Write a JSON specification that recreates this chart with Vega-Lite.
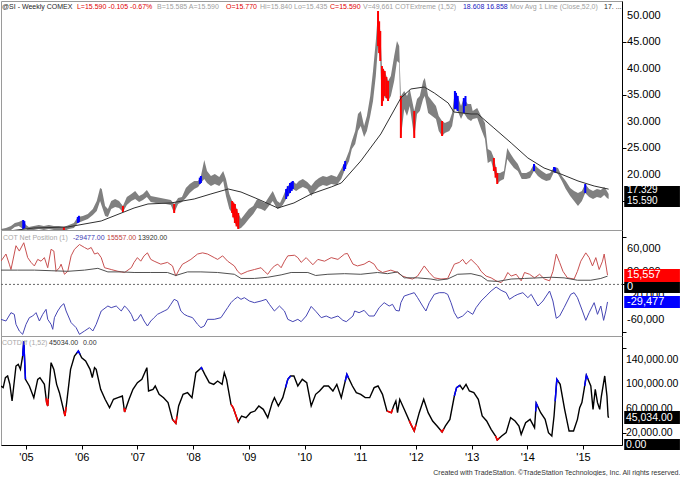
{
"$schema":"https://vega.github.io/schema/vega-lite/v6.json",
"padding":0,
"background":"#ffffff",
"spacing":0,
"bounds":"flush",
"config":{"view":{"stroke":"#9a9a9a","strokeWidth":1},"font":"Liberation Sans","axis":{"grid":false,"labelFont":"Liberation Sans","labelFontSize":11,"labelColor":"#000000","tickColor":"#000000","domainColor":"#000000","tickSize":4,"labelPadding":2}},
"title":{"text":"Created with TradeStation. ©TradeStation Technologies, Inc. All rights reserved.","orient":"bottom","anchor":"end","fontSize":7,"fontWeight":"normal","color":"#333333","offset":6,"font":"Liberation Sans"},
"datasets":{
"px":[{"t":2004.55,"h":9.81,"l":9.06},{"t":2004.64,"h":10.0,"l":9.25},{"t":2004.73,"h":10.38,"l":9.62},{"t":2004.80,"h":10.94,"l":10.19},{"t":2004.87,"h":11.13,"l":10.38},{"t":2004.95,"h":11.51,"l":9.81},{"t":2005.00,"h":10.57,"l":9.81},{"t":2005.05,"h":10.19,"l":9.43},{"t":2005.14,"h":10.38,"l":9.62},{"t":2005.23,"h":10.57,"l":9.81},{"t":2005.32,"h":10.38,"l":9.62},{"t":2005.41,"h":10.57,"l":9.81},{"t":2005.50,"h":10.38,"l":9.62},{"t":2005.59,"h":10.38,"l":9.62},{"t":2005.68,"h":10.19,"l":9.43},{"t":2005.77,"h":10.57,"l":9.81},{"t":2005.86,"h":10.94,"l":10.0},{"t":2005.93,"h":12.07,"l":10.94},{"t":2006.02,"h":12.26,"l":11.32},{"t":2006.11,"h":12.64,"l":11.7},{"t":2006.20,"h":13.59,"l":12.45},{"t":2006.27,"h":15.09,"l":13.21},{"t":2006.33,"h":17.55,"l":15.09},{"t":2006.36,"h":17.36,"l":14.15},{"t":2006.42,"h":14.15,"l":12.26},{"t":2006.47,"h":13.59,"l":12.07},{"t":2006.53,"h":15.09,"l":13.59},{"t":2006.60,"h":15.47,"l":13.96},{"t":2006.67,"h":15.09,"l":13.77},{"t":2006.74,"h":14.15,"l":13.02},{"t":2006.81,"h":15.85,"l":14.34},{"t":2006.89,"h":16.42,"l":15.09},{"t":2006.96,"h":16.98,"l":15.47},{"t":2007.03,"h":16.04,"l":14.91},{"t":2007.10,"h":16.42,"l":15.28},{"t":2007.17,"h":17.17,"l":15.85},{"t":2007.24,"h":16.04,"l":14.91},{"t":2007.33,"h":15.85,"l":14.72},{"t":2007.42,"h":15.66,"l":14.72},{"t":2007.51,"h":15.47,"l":14.53},{"t":2007.60,"h":15.28,"l":14.34},{"t":2007.66,"h":14.53,"l":12.83},{"t":2007.73,"h":15.66,"l":14.53},{"t":2007.80,"h":15.85,"l":14.91},{"t":2007.87,"h":17.55,"l":15.66},{"t":2007.94,"h":18.3,"l":16.6},{"t":2008.02,"h":18.87,"l":17.36},{"t":2008.09,"h":18.87,"l":17.74},{"t":2008.14,"h":19.81,"l":18.49},{"t":2008.20,"h":22.83,"l":19.25},{"t":2008.25,"h":20.75,"l":18.49},{"t":2008.32,"h":19.81,"l":17.92},{"t":2008.39,"h":20.19,"l":18.3},{"t":2008.47,"h":19.62,"l":17.92},{"t":2008.54,"h":20.75,"l":18.87},{"t":2008.59,"h":19.25,"l":16.04},{"t":2008.65,"h":16.42,"l":13.59},{"t":2008.70,"h":15.09,"l":12.83},{"t":2008.75,"h":14.53,"l":10.94},{"t":2008.81,"h":12.83,"l":9.81},{"t":2008.86,"h":11.7,"l":10.0},{"t":2008.93,"h":12.64,"l":10.75},{"t":2009.00,"h":13.59,"l":11.7},{"t":2009.08,"h":14.15,"l":12.64},{"t":2009.15,"h":15.47,"l":13.77},{"t":2009.22,"h":15.09,"l":13.59},{"t":2009.29,"h":14.72,"l":13.21},{"t":2009.36,"h":15.85,"l":14.15},{"t":2009.43,"h":16.98,"l":15.09},{"t":2009.51,"h":15.09,"l":13.59},{"t":2009.56,"h":14.72,"l":13.77},{"t":2009.61,"h":15.85,"l":14.34},{"t":2009.67,"h":17.36,"l":15.47},{"t":2009.74,"h":18.49,"l":16.6},{"t":2009.79,"h":18.87,"l":17.36},{"t":2009.85,"h":18.3,"l":16.98},{"t":2009.90,"h":18.87,"l":17.36},{"t":2009.97,"h":19.25,"l":17.74},{"t":2010.05,"h":18.68,"l":17.36},{"t":2010.12,"h":17.92,"l":16.04},{"t":2010.19,"h":18.87,"l":16.98},{"t":2010.26,"h":19.43,"l":17.74},{"t":2010.33,"h":19.81,"l":18.11},{"t":2010.40,"h":19.62,"l":17.92},{"t":2010.48,"h":20.0,"l":18.3},{"t":2010.58,"h":19.62,"l":18.11},{"t":2010.66,"h":21.13,"l":19.25},{"t":2010.73,"h":22.64,"l":21.13},{"t":2010.80,"h":24.53,"l":22.64},{"t":2010.85,"h":26.42,"l":24.91},{"t":2010.91,"h":28.3,"l":25.85},{"t":2010.96,"h":31.51,"l":28.3},{"t":2011.01,"h":32.08,"l":29.25},{"t":2011.07,"h":29.25,"l":27.17},{"t":2011.12,"h":31.13,"l":28.3},{"t":2011.18,"h":34.91,"l":31.13},{"t":2011.23,"h":39.62,"l":33.96},{"t":2011.28,"h":45.28,"l":38.68},{"t":2011.32,"h":50.94,"l":44.34},{"t":2011.36,"h":47.17,"l":41.51},{"t":2011.39,"h":40.57,"l":33.02},{"t":2011.44,"h":39.62,"l":34.91},{"t":2011.50,"h":37.74,"l":33.96},{"t":2011.55,"h":38.68,"l":34.91},{"t":2011.61,"h":42.45,"l":37.74},{"t":2011.66,"h":45.28,"l":41.51},{"t":2011.70,"h":44.34,"l":41.13},{"t":2011.73,"h":34.91,"l":26.98},{"t":2011.79,"h":35.85,"l":32.45},{"t":2011.84,"h":34.91,"l":31.13},{"t":2011.89,"h":36.23,"l":33.02},{"t":2011.97,"h":32.08,"l":26.98},{"t":2012.02,"h":34.34,"l":31.51},{"t":2012.07,"h":34.91,"l":32.08},{"t":2012.13,"h":37.74,"l":34.34},{"t":2012.16,"h":38.3,"l":34.91},{"t":2012.22,"h":34.91,"l":31.7},{"t":2012.29,"h":33.96,"l":31.13},{"t":2012.36,"h":33.02,"l":30.57},{"t":2012.41,"h":31.13,"l":28.3},{"t":2012.47,"h":30.19,"l":27.36},{"t":2012.52,"h":29.81,"l":27.92},{"t":2012.60,"h":30.19,"l":28.3},{"t":2012.65,"h":31.7,"l":29.25},{"t":2012.70,"h":35.85,"l":32.45},{"t":2012.75,"h":34.91,"l":32.08},{"t":2012.81,"h":33.02,"l":30.57},{"t":2012.86,"h":34.53,"l":31.7},{"t":2012.93,"h":33.4,"l":30.57},{"t":2012.99,"h":33.4,"l":30.19},{"t":2013.02,"h":32.08,"l":30.57},{"t":2013.10,"h":32.64,"l":30.75},{"t":2013.17,"h":31.13,"l":28.68},{"t":2013.24,"h":29.81,"l":26.79},{"t":2013.29,"h":24.91,"l":22.26},{"t":2013.35,"h":24.53,"l":22.64},{"t":2013.40,"h":23.21,"l":20.75},{"t":2013.46,"h":20.38,"l":18.3},{"t":2013.51,"h":20.38,"l":18.87},{"t":2013.58,"h":20.75,"l":19.25},{"t":2013.64,"h":25.09,"l":23.02},{"t":2013.69,"h":24.15,"l":22.26},{"t":2013.76,"h":23.02,"l":21.32},{"t":2013.83,"h":22.08,"l":20.75},{"t":2013.90,"h":20.38,"l":19.25},{"t":2013.98,"h":20.38,"l":19.25},{"t":2014.05,"h":20.75,"l":19.43},{"t":2014.12,"h":22.08,"l":20.75},{"t":2014.19,"h":21.32,"l":19.81},{"t":2014.26,"h":20.75,"l":19.25},{"t":2014.34,"h":20.19,"l":18.87},{"t":2014.41,"h":20.38,"l":19.06},{"t":2014.48,"h":21.51,"l":20.57},{"t":2014.55,"h":21.32,"l":20.19},{"t":2014.62,"h":19.81,"l":18.87},{"t":2014.69,"h":18.87,"l":17.36},{"t":2014.77,"h":17.55,"l":16.04},{"t":2014.84,"h":16.98,"l":15.09},{"t":2014.91,"h":16.6,"l":14.15},{"t":2014.98,"h":16.98,"l":15.09},{"t":2015.04,"h":18.3,"l":16.6},{"t":2015.11,"h":17.36,"l":15.85},{"t":2015.18,"h":16.98,"l":15.47},{"t":2015.25,"h":17.36,"l":15.85},{"t":2015.32,"h":17.17,"l":15.66},{"t":2015.38,"h":17.74,"l":16.23},{"t":2015.43,"h":16.98,"l":15.66},{"t":2015.46,"h":16.42,"l":15.47}],
"pc":[{"t":2004.95,"h":11.51,"l":9.81,"ext":"high"},{"t":2004.97,"h":11.3,"l":10.0,"ext":"high"},{"t":2005.93,"h":12.07,"l":10.94,"ext":"high"},{"t":2005.95,"h":12.3,"l":11.1,"ext":"high"},{"t":2008.12,"h":19.5,"l":18.3,"ext":"high"},{"t":2008.14,"h":19.81,"l":18.49,"ext":"high"},{"t":2009.67,"h":17.36,"l":15.47,"ext":"high"},{"t":2009.70,"h":17.9,"l":16.0,"ext":"high"},{"t":2009.74,"h":18.49,"l":16.6,"ext":"high"},{"t":2009.77,"h":18.7,"l":17.0,"ext":"high"},{"t":2009.79,"h":18.87,"l":17.36,"ext":"high"},{"t":2010.71,"h":22.0,"l":20.8,"ext":"high"},{"t":2010.73,"h":22.64,"l":21.13,"ext":"high"},{"t":2012.70,"h":35.85,"l":32.45,"ext":"high"},{"t":2012.72,"h":35.5,"l":32.5,"ext":"high"},{"t":2012.75,"h":34.91,"l":32.08,"ext":"high"},{"t":2012.86,"h":34.53,"l":31.7,"ext":"high"},{"t":2012.89,"h":34.91,"l":33.02,"ext":"high"},{"t":2014.12,"h":22.08,"l":20.75,"ext":"high"},{"t":2014.48,"h":21.51,"l":20.57,"ext":"high"},{"t":2014.50,"h":21.4,"l":20.4,"ext":"high"},{"t":2015.04,"h":18.3,"l":16.6,"ext":"high"},{"t":2005.68,"h":10.19,"l":9.43,"ext":"low"},{"t":2006.74,"h":14.15,"l":13.02,"ext":"low"},{"t":2007.66,"h":14.53,"l":12.83,"ext":"low"},{"t":2008.70,"h":15.09,"l":12.83,"ext":"low"},{"t":2008.72,"h":14.8,"l":12.0,"ext":"low"},{"t":2008.75,"h":14.53,"l":10.94,"ext":"low"},{"t":2008.78,"h":13.6,"l":10.3,"ext":"low"},{"t":2008.81,"h":12.83,"l":9.81,"ext":"low"},{"t":2011.32,"h":50.94,"l":44.34,"ext":"low"},{"t":2011.34,"h":49.0,"l":43.0,"ext":"low"},{"t":2011.36,"h":47.17,"l":41.51,"ext":"low"},{"t":2011.39,"h":40.57,"l":33.02,"ext":"low"},{"t":2011.41,"h":40.0,"l":34.0,"ext":"low"},{"t":2011.44,"h":39.62,"l":34.91,"ext":"low"},{"t":2011.47,"h":38.5,"l":34.5,"ext":"low"},{"t":2011.50,"h":37.74,"l":33.96,"ext":"low"},{"t":2011.73,"h":34.91,"l":26.98,"ext":"low"},{"t":2011.97,"h":32.08,"l":26.98,"ext":"low"},{"t":2012.47,"h":30.19,"l":27.36,"ext":"low"},{"t":2013.40,"h":23.21,"l":20.75,"ext":"low"},{"t":2013.43,"h":21.5,"l":19.5,"ext":"low"},{"t":2013.46,"h":20.38,"l":18.3,"ext":"low"}],
"ma":[{"t":2004.55,"m":9.25},{"t":2005.14,"m":10.0},{"t":2005.75,"m":10.19},{"t":2006.35,"m":11.32},{"t":2006.94,"m":13.77},{"t":2007.19,"m":14.53},{"t":2007.60,"m":14.72},{"t":2008.02,"m":15.47},{"t":2008.32,"m":16.42},{"t":2008.63,"m":17.36},{"t":2008.86,"m":16.79},{"t":2009.16,"m":15.47},{"t":2009.52,"m":13.77},{"t":2009.81,"m":14.72},{"t":2010.12,"m":16.42},{"t":2010.48,"m":17.74},{"t":2010.66,"m":18.49},{"t":2011.01,"m":22.64},{"t":2011.37,"m":27.74},{"t":2011.73,"m":34.53},{"t":2011.91,"m":36.23},{"t":2012.15,"m":36.6},{"t":2012.33,"m":35.47},{"t":2012.58,"m":33.58},{"t":2012.68,"m":31.89},{"t":2012.99,"m":31.51},{"t":2013.11,"m":31.51},{"t":2013.40,"m":28.87},{"t":2013.71,"m":26.04},{"t":2014.01,"m":23.21},{"t":2014.30,"m":21.32},{"t":2014.60,"m":20.19},{"t":2014.91,"m":18.87},{"t":2015.20,"m":17.92},{"t":2015.46,"m":17.33}],
"large":[{"t":2004.55,"v":39},{"t":2004.64,"v":51},{"t":2004.70,"v":34},{"t":2004.73,"v":25},{"t":2004.82,"v":65},{"t":2004.88,"v":56},{"t":2004.96,"v":70},{"t":2005.03,"v":45},{"t":2005.09,"v":37},{"t":2005.15,"v":31},{"t":2005.21,"v":42},{"t":2005.27,"v":39},{"t":2005.33,"v":45},{"t":2005.39,"v":28},{"t":2005.45,"v":59},{"t":2005.50,"v":56},{"t":2005.54,"v":22},{"t":2005.60,"v":28},{"t":2005.63,"v":34},{"t":2005.69,"v":17},{"t":2005.75,"v":22},{"t":2005.81,"v":48},{"t":2005.87,"v":59},{"t":2005.96,"v":67},{"t":2006.05,"v":62},{"t":2006.11,"v":59},{"t":2006.17,"v":62},{"t":2006.23,"v":51},{"t":2006.29,"v":53},{"t":2006.35,"v":45},{"t":2006.41,"v":28},{"t":2006.53,"v":25},{"t":2006.65,"v":22},{"t":2006.77,"v":20},{"t":2006.89,"v":28},{"t":2006.94,"v":37},{"t":2007.00,"v":45},{"t":2007.06,"v":39},{"t":2007.12,"v":48},{"t":2007.18,"v":53},{"t":2007.24,"v":42},{"t":2007.30,"v":39},{"t":2007.42,"v":34},{"t":2007.54,"v":37},{"t":2007.63,"v":31},{"t":2007.69,"v":14},{"t":2007.75,"v":25},{"t":2007.81,"v":34},{"t":2007.87,"v":37},{"t":2007.96,"v":42},{"t":2008.08,"v":51},{"t":2008.17,"v":53},{"t":2008.26,"v":51},{"t":2008.38,"v":45},{"t":2008.44,"v":42},{"t":2008.53,"v":48},{"t":2008.62,"v":39},{"t":2008.74,"v":31},{"t":2008.80,"v":22},{"t":2008.86,"v":17},{"t":2008.98,"v":22},{"t":2009.10,"v":25},{"t":2009.22,"v":28},{"t":2009.28,"v":22},{"t":2009.34,"v":17},{"t":2009.40,"v":25},{"t":2009.46,"v":31},{"t":2009.52,"v":34},{"t":2009.58,"v":28},{"t":2009.64,"v":39},{"t":2009.70,"v":48},{"t":2009.82,"v":49},{"t":2009.88,"v":45},{"t":2009.94,"v":37},{"t":2010.03,"v":45},{"t":2010.09,"v":39},{"t":2010.15,"v":33},{"t":2010.24,"v":42},{"t":2010.36,"v":39},{"t":2010.48,"v":45},{"t":2010.60,"v":42},{"t":2010.72,"v":51},{"t":2010.77,"v":52},{"t":2010.87,"v":34},{"t":2010.95,"v":31},{"t":2011.07,"v":34},{"t":2011.16,"v":39},{"t":2011.25,"v":34},{"t":2011.31,"v":25},{"t":2011.40,"v":20},{"t":2011.55,"v":24},{"t":2011.67,"v":20},{"t":2011.76,"v":14},{"t":2011.85,"v":11},{"t":2011.94,"v":9},{"t":2012.03,"v":14},{"t":2012.15,"v":31},{"t":2012.24,"v":20},{"t":2012.33,"v":11},{"t":2012.45,"v":9},{"t":2012.57,"v":10},{"t":2012.63,"v":22},{"t":2012.69,"v":34},{"t":2012.78,"v":37},{"t":2012.84,"v":42},{"t":2012.90,"v":34},{"t":2012.99,"v":42},{"t":2013.11,"v":31},{"t":2013.17,"v":22},{"t":2013.26,"v":14},{"t":2013.35,"v":11},{"t":2013.44,"v":6},{"t":2013.53,"v":3},{"t":2013.59,"v":9},{"t":2013.65,"v":20},{"t":2013.71,"v":14},{"t":2013.80,"v":17},{"t":2013.89,"v":6},{"t":2013.95,"v":20},{"t":2014.04,"v":17},{"t":2014.13,"v":11},{"t":2014.22,"v":17},{"t":2014.31,"v":9},{"t":2014.40,"v":6},{"t":2014.46,"v":22},{"t":2014.52,"v":51},{"t":2014.58,"v":37},{"t":2014.64,"v":22},{"t":2014.72,"v":11},{"t":2014.84,"v":9},{"t":2014.90,"v":22},{"t":2014.96,"v":39},{"t":2015.05,"v":53},{"t":2015.11,"v":45},{"t":2015.17,"v":31},{"t":2015.23,"v":45},{"t":2015.29,"v":25},{"t":2015.35,"v":39},{"t":2015.38,"v":51},{"t":2015.44,"v":15.6}],
"small":[{"t":2004.55,"v":24},{"t":2004.85,"v":24},{"t":2005.15,"v":24},{"t":2005.45,"v":23},{"t":2005.75,"v":22},{"t":2006.05,"v":24},{"t":2006.29,"v":27},{"t":2006.47,"v":21},{"t":2006.71,"v":21},{"t":2006.94,"v":20},{"t":2007.24,"v":20},{"t":2007.54,"v":20},{"t":2007.69,"v":15},{"t":2007.90,"v":21},{"t":2008.14,"v":21},{"t":2008.44,"v":20},{"t":2008.74,"v":17},{"t":2008.86,"v":10},{"t":2009.10,"v":10},{"t":2009.34,"v":12},{"t":2009.58,"v":16},{"t":2009.76,"v":20},{"t":2010.06,"v":20},{"t":2010.20,"v":15},{"t":2010.42,"v":17},{"t":2010.72,"v":18},{"t":2011.01,"v":17},{"t":2011.31,"v":20},{"t":2011.49,"v":18},{"t":2011.67,"v":21},{"t":2011.79,"v":11},{"t":2012.03,"v":11},{"t":2012.27,"v":9},{"t":2012.39,"v":7},{"t":2012.57,"v":9},{"t":2012.75,"v":17},{"t":2012.99,"v":18},{"t":2013.17,"v":14},{"t":2013.29,"v":6},{"t":2013.47,"v":5},{"t":2013.71,"v":9},{"t":2013.95,"v":10},{"t":2014.19,"v":11},{"t":2014.43,"v":12},{"t":2014.66,"v":11},{"t":2014.90,"v":7},{"t":2015.14,"v":7},{"t":2015.32,"v":10},{"t":2015.44,"v":13.9}],
"comm":[{"t":2004.55,"v":-58.7},{"t":2004.64,"v":-61.5},{"t":2004.73,"v":-47.5},{"t":2004.79,"v":-50.3},{"t":2004.82,"v":-67.1},{"t":2004.88,"v":-78.3},{"t":2004.94,"v":-83.9},{"t":2005.00,"v":-67.1},{"t":2005.06,"v":-55.9},{"t":2005.12,"v":-53.1},{"t":2005.18,"v":-47.5},{"t":2005.24,"v":-61.5},{"t":2005.30,"v":-50.3},{"t":2005.36,"v":-41.9},{"t":2005.39,"v":-58.7},{"t":2005.45,"v":-67.1},{"t":2005.48,"v":-75.5},{"t":2005.51,"v":-55.9},{"t":2005.57,"v":-44.7},{"t":2005.63,"v":-36.3},{"t":2005.68,"v":-32.4},{"t":2005.72,"v":-44.7},{"t":2005.81,"v":-64.3},{"t":2005.90,"v":-72.7},{"t":2005.96,"v":-83.9},{"t":2006.05,"v":-78.3},{"t":2006.14,"v":-72.7},{"t":2006.20,"v":-78.3},{"t":2006.26,"v":-67.1},{"t":2006.35,"v":-44.7},{"t":2006.47,"v":-36.3},{"t":2006.53,"v":-39.1},{"t":2006.62,"v":-36.3},{"t":2006.71,"v":-44.7},{"t":2006.77,"v":-36.3},{"t":2006.83,"v":-41.9},{"t":2006.89,"v":-50.3},{"t":2006.94,"v":-61.5},{"t":2007.00,"v":-58.7},{"t":2007.06,"v":-50.3},{"t":2007.12,"v":-61.5},{"t":2007.18,"v":-69.9},{"t":2007.24,"v":-61.5},{"t":2007.30,"v":-55.9},{"t":2007.36,"v":-50.3},{"t":2007.42,"v":-47.5},{"t":2007.48,"v":-44.7},{"t":2007.54,"v":-41.9},{"t":2007.60,"v":-33.5},{"t":2007.66,"v":-25.1},{"t":2007.72,"v":-27.9},{"t":2007.78,"v":-44.7},{"t":2007.84,"v":-50.3},{"t":2007.90,"v":-53.1},{"t":2007.99,"v":-55.9},{"t":2008.08,"v":-67.1},{"t":2008.14,"v":-72.7},{"t":2008.20,"v":-69.9},{"t":2008.26,"v":-58.7},{"t":2008.38,"v":-58.7},{"t":2008.50,"v":-55.9},{"t":2008.62,"v":-39.1},{"t":2008.68,"v":-30.7},{"t":2008.74,"v":-25.1},{"t":2008.80,"v":-21.2},{"t":2008.86,"v":-25.1},{"t":2008.92,"v":-22.3},{"t":2009.01,"v":-27.9},{"t":2009.10,"v":-30.7},{"t":2009.22,"v":-27.9},{"t":2009.31,"v":-25.1},{"t":2009.37,"v":-33.5},{"t":2009.46,"v":-44.7},{"t":2009.55,"v":-36.3},{"t":2009.64,"v":-44.7},{"t":2009.70,"v":-58.7},{"t":2009.79,"v":-62.6},{"t":2009.88,"v":-58.7},{"t":2009.94,"v":-62.6},{"t":2010.03,"v":-53.1},{"t":2010.12,"v":-37},{"t":2010.21,"v":-46},{"t":2010.30,"v":-55.9},{"t":2010.39,"v":-53.1},{"t":2010.48,"v":-57.0},{"t":2010.60,"v":-53.1},{"t":2010.69,"v":-60.4},{"t":2010.75,"v":-62.6},{"t":2010.87,"v":-53.1},{"t":2010.90,"v":-44.7},{"t":2010.98,"v":-47.5},{"t":2011.07,"v":-43.6},{"t":2011.16,"v":-53.1},{"t":2011.25,"v":-53.1},{"t":2011.34,"v":-39.1},{"t":2011.43,"v":-30.7},{"t":2011.52,"v":-36.3},{"t":2011.58,"v":-33.5},{"t":2011.64,"v":-43.6},{"t":2011.70,"v":-44.7},{"t":2011.73,"v":-30.7},{"t":2011.79,"v":-19.5},{"t":2011.88,"v":-16.7},{"t":2011.97,"v":-13.9},{"t":2012.03,"v":-22.3},{"t":2012.12,"v":-36.3},{"t":2012.18,"v":-44.7},{"t":2012.24,"v":-30.7},{"t":2012.33,"v":-16.7},{"t":2012.42,"v":-13.9},{"t":2012.51,"v":-13.9},{"t":2012.57,"v":-16.7},{"t":2012.63,"v":-30.7},{"t":2012.69,"v":-47.5},{"t":2012.75,"v":-57.0},{"t":2012.84,"v":-53.1},{"t":2012.93,"v":-44.7},{"t":2013.02,"v":-50.3},{"t":2013.08,"v":-39.1},{"t":2013.17,"v":-27.9},{"t":2013.26,"v":-19.5},{"t":2013.35,"v":-11.1},{"t":2013.44,"v":-4.4},{"t":2013.53,"v":-10.0},{"t":2013.62,"v":-13.9},{"t":2013.68,"v":-25.1},{"t":2013.77,"v":-19.5},{"t":2013.83,"v":-16.7},{"t":2013.92,"v":-13.9},{"t":2014.01,"v":-22.3},{"t":2014.07,"v":-16.7},{"t":2014.19,"v":-36.3},{"t":2014.28,"v":-27.9},{"t":2014.40,"v":-11.1},{"t":2014.46,"v":-27.9},{"t":2014.52,"v":-57.0},{"t":2014.58,"v":-53.1},{"t":2014.66,"v":-39.1},{"t":2014.78,"v":-16.7},{"t":2014.84,"v":-13.9},{"t":2014.90,"v":-22.3},{"t":2014.99,"v":-44.7},{"t":2015.05,"v":-60.4},{"t":2015.11,"v":-47.5},{"t":2015.20,"v":-30.7},{"t":2015.26,"v":-50.3},{"t":2015.32,"v":-36.3},{"t":2015.37,"v":-60.4},{"t":2015.41,"v":-44.7},{"t":2015.44,"v":-29.5}],
"cd":[{"t":2004.55,"v":97.1},{"t":2004.59,"v":94.4},{"t":2004.63,"v":110.8},{"t":2004.67,"v":113.6},{"t":2004.71,"v":99.8},{"t":2004.75,"v":72.4},{"t":2004.82,"v":130},{"t":2004.86,"v":132.8},{"t":2004.90,"v":124.5},{"t":2004.94,"v":146.5},{"t":2004.96,"v":171},{"t":2004.99,"v":108.1},{"t":2005.06,"v":97.1},{"t":2005.14,"v":77.9},{"t":2005.21,"v":108.1},{"t":2005.25,"v":110.8},{"t":2005.33,"v":99.8},{"t":2005.37,"v":69.7},{"t":2005.39,"v":64.2},{"t":2005.45,"v":135.5},{"t":2005.50,"v":124.5},{"t":2005.55,"v":99.8},{"t":2005.60,"v":86.1},{"t":2005.70,"v":47.7},{"t":2005.73,"v":69.7},{"t":2005.80,"v":124.5},{"t":2005.87,"v":146.5},{"t":2005.94,"v":154.7},{"t":2006.00,"v":143.7},{"t":2006.07,"v":138.2},{"t":2006.15,"v":124.5},{"t":2006.19,"v":110.8},{"t":2006.23,"v":127.3},{"t":2006.26,"v":124.5},{"t":2006.34,"v":91.6},{"t":2006.42,"v":75.2},{"t":2006.50,"v":61.4},{"t":2006.57,"v":75.2},{"t":2006.65,"v":77.9},{"t":2006.73,"v":80.6},{"t":2006.77,"v":54.3},{"t":2006.85,"v":75.2},{"t":2006.92,"v":91.6},{"t":2007.00,"v":102.6},{"t":2007.08,"v":108.1},{"t":2007.17,"v":127.3},{"t":2007.20,"v":88.9},{"t":2007.28,"v":91.6},{"t":2007.32,"v":97.1},{"t":2007.39,"v":83.4},{"t":2007.47,"v":77.9},{"t":2007.55,"v":69.7},{"t":2007.63,"v":42.2},{"t":2007.69,"v":35.6},{"t":2007.74,"v":64.2},{"t":2007.82,"v":83.4},{"t":2007.90,"v":86.1},{"t":2007.98,"v":77.9},{"t":2008.05,"v":119},{"t":2008.15,"v":127.3},{"t":2008.21,"v":116.3},{"t":2008.29,"v":102.6},{"t":2008.37,"v":99.8},{"t":2008.44,"v":105.3},{"t":2008.52,"v":99.8},{"t":2008.56,"v":119},{"t":2008.60,"v":108.1},{"t":2008.68,"v":66.9},{"t":2008.72,"v":61.4},{"t":2008.81,"v":37.8},{"t":2008.87,"v":47.7},{"t":2008.95,"v":45},{"t":2009.03,"v":53.2},{"t":2009.11,"v":55.9},{"t":2009.18,"v":64.2},{"t":2009.26,"v":58.7},{"t":2009.34,"v":45},{"t":2009.42,"v":69.7},{"t":2009.46,"v":77.9},{"t":2009.53,"v":64.2},{"t":2009.61,"v":77.9},{"t":2009.70,"v":108.1},{"t":2009.75,"v":113.6},{"t":2009.81,"v":113.6},{"t":2009.88,"v":97.1},{"t":2009.96,"v":108.1},{"t":2010.04,"v":102.6},{"t":2010.12,"v":64.2},{"t":2010.20,"v":83.4},{"t":2010.27,"v":88.9},{"t":2010.35,"v":97.1},{"t":2010.43,"v":97.1},{"t":2010.51,"v":88.9},{"t":2010.58,"v":99.8},{"t":2010.66,"v":77.9},{"t":2010.76,"v":116.3},{"t":2010.86,"v":97.1},{"t":2010.93,"v":86.1},{"t":2011.01,"v":83.4},{"t":2011.09,"v":77.9},{"t":2011.17,"v":77.9},{"t":2011.25,"v":94.4},{"t":2011.32,"v":97.1},{"t":2011.40,"v":83.4},{"t":2011.48,"v":55.9},{"t":2011.56,"v":53.2},{"t":2011.60,"v":64.2},{"t":2011.64,"v":72.4},{"t":2011.67,"v":53.2},{"t":2011.71,"v":75.2},{"t":2011.79,"v":58.7},{"t":2011.91,"v":34},{"t":2011.97,"v":23},{"t":2012.06,"v":53.2},{"t":2012.14,"v":75.2},{"t":2012.22,"v":53.2},{"t":2012.30,"v":39.5},{"t":2012.38,"v":31.3},{"t":2012.47,"v":21.4},{"t":2012.53,"v":31.3},{"t":2012.61,"v":42.2},{"t":2012.69,"v":80.6},{"t":2012.73,"v":94.4},{"t":2012.79,"v":98.2},{"t":2012.84,"v":91.6},{"t":2012.90,"v":99.8},{"t":2012.96,"v":88.9},{"t":2013.04,"v":86.1},{"t":2013.12,"v":75.2},{"t":2013.19,"v":47.7},{"t":2013.27,"v":39.5},{"t":2013.35,"v":25.8},{"t":2013.43,"v":14.8},{"t":2013.46,"v":8.2},{"t":2013.54,"v":14.8},{"t":2013.62,"v":20.3},{"t":2013.70,"v":45},{"t":2013.78,"v":39.5},{"t":2013.85,"v":31.3},{"t":2013.89,"v":17.5},{"t":2013.97,"v":36.7},{"t":2014.05,"v":42.2},{"t":2014.13,"v":28.5},{"t":2014.16,"v":68.6},{"t":2014.24,"v":53.2},{"t":2014.32,"v":42.2},{"t":2014.38,"v":20.3},{"t":2014.44,"v":14.8},{"t":2014.48,"v":47.7},{"t":2014.53,"v":108.1},{"t":2014.59,"v":99.8},{"t":2014.67,"v":58.7},{"t":2014.75,"v":23},{"t":2014.83,"v":23},{"t":2014.90,"v":42.2},{"t":2014.94,"v":61.4},{"t":2014.98,"v":69.7},{"t":2015.02,"v":91.6},{"t":2015.06,"v":114.7},{"t":2015.14,"v":97.1},{"t":2015.18,"v":58.7},{"t":2015.22,"v":91.6},{"t":2015.26,"v":69.7},{"t":2015.30,"v":58.7},{"t":2015.33,"v":80.6},{"t":2015.39,"v":113.6},{"t":2015.43,"v":80.6},{"t":2015.45,"v":47.7},{"t":2015.46,"v":45.0}],
"cdx":[{"t":2004.94,"v":146.5,"seg":1,"ext":"high"},{"t":2004.96,"v":171,"seg":1,"ext":"high"},{"t":2004.99,"v":108.1,"seg":1,"ext":"high"},{"t":2005.36,"v":77.2,"seg":2,"ext":"low"},{"t":2005.37,"v":69.7,"seg":2,"ext":"low"},{"t":2005.39,"v":64.2,"seg":2,"ext":"low"},{"t":2005.40,"v":76.1,"seg":2,"ext":"low"},{"t":2005.68,"v":55.4,"seg":3,"ext":"low"},{"t":2005.70,"v":47.7,"seg":3,"ext":"low"},{"t":2005.72,"v":62.4,"seg":3,"ext":"low"},{"t":2005.91,"v":151.2,"seg":4,"ext":"high"},{"t":2005.94,"v":154.7,"seg":4,"ext":"high"},{"t":2005.97,"v":149.2,"seg":4,"ext":"high"},{"t":2006.76,"v":60.9,"seg":5,"ext":"low"},{"t":2006.77,"v":54.3,"seg":5,"ext":"low"},{"t":2006.79,"v":59.5,"seg":5,"ext":"low"},{"t":2007.63,"v":42.2,"seg":6,"ext":"low"},{"t":2007.69,"v":35.6,"seg":6,"ext":"low"},{"t":2007.71,"v":47.0,"seg":6,"ext":"low"},{"t":2008.13,"v":125.6,"seg":7,"ext":"high"},{"t":2008.15,"v":127.3,"seg":7,"ext":"high"},{"t":2008.17,"v":123.7,"seg":7,"ext":"high"},{"t":2008.68,"v":66.9,"seg":8,"ext":"low"},{"t":2008.72,"v":61.4,"seg":8,"ext":"low"},{"t":2008.81,"v":37.8,"seg":8,"ext":"low"},{"t":2009.66,"v":94.7,"seg":9,"ext":"high"},{"t":2009.70,"v":108.1,"seg":9,"ext":"high"},{"t":2009.75,"v":113.6,"seg":9,"ext":"high"},{"t":2010.73,"v":104.8,"seg":10,"ext":"high"},{"t":2010.76,"v":116.3,"seg":10,"ext":"high"},{"t":2010.79,"v":110.5,"seg":10,"ext":"high"},{"t":2011.48,"v":55.9,"seg":11,"ext":"low"},{"t":2011.56,"v":53.2,"seg":11,"ext":"low"},{"t":2011.58,"v":58.7,"seg":11,"ext":"low"},{"t":2011.88,"v":40.2,"seg":12,"ext":"low"},{"t":2011.91,"v":34,"seg":12,"ext":"low"},{"t":2011.97,"v":23,"seg":12,"ext":"low"},{"t":2012.00,"v":33.1,"seg":12,"ext":"low"},{"t":2012.44,"v":24.7,"seg":13,"ext":"low"},{"t":2012.47,"v":21.4,"seg":13,"ext":"low"},{"t":2012.50,"v":26.4,"seg":13,"ext":"low"},{"t":2012.69,"v":80.6,"seg":14,"ext":"high"},{"t":2012.73,"v":94.4,"seg":14,"ext":"high"},{"t":2012.79,"v":98.2,"seg":14,"ext":"high"},{"t":2013.43,"v":14.8,"seg":15,"ext":"low"},{"t":2013.46,"v":8.2,"seg":15,"ext":"low"},{"t":2013.50,"v":11.5,"seg":15,"ext":"low"},{"t":2014.15,"v":55.2,"seg":16,"ext":"high"},{"t":2014.16,"v":68.6,"seg":16,"ext":"high"},{"t":2014.19,"v":62.8,"seg":16,"ext":"high"},{"t":2014.50,"v":71.9,"seg":17,"ext":"high"},{"t":2014.53,"v":108.1,"seg":17,"ext":"high"},{"t":2014.56,"v":103.9,"seg":17,"ext":"high"},{"t":2015.03,"v":97.4,"seg":18,"ext":"high"},{"t":2015.06,"v":114.7,"seg":18,"ext":"high"},{"t":2015.09,"v":108.6,"seg":18,"ext":"high"}],
"lab1":[{"v":50},{"v":45},{"v":40},{"v":35},{"v":30},{"v":25},{"v":20}],
"lab2":[{"v":60,"lab":"60,000"},{"v":20,"lab":"20,000"},{"v":-20,"lab":"-20,000"},{"v":-60,"lab":"-60,000"}],
"lab3":[{"v":140,"lab":"140,000.00"},{"v":100,"lab":"100,000.00"},{"v":60,"lab":"60,000.00"},{"v":20,"lab":"20,000.00"}]
},
"vconcat":[
{"width":621,"height":229,
 "layer":[
  {"data":{"name":"px"},"mark":{"type":"area","color":"#808080","clip":true},
   "encoding":{"x":{"field":"t","type":"quantitative","scale":{"domain":[2004.551,2015.7],"nice":false,"zero":false},"axis":null},
    "y":{"field":"h","type":"quantitative","scale":{"domain":[9.62,52.83],"nice":false,"zero":false},"axis":{"orient":"right","values":[15,20,25,30,35,40,45,50],"labels":false,"title":null}},
    "y2":{"field":"l"}}},
  {"data":{"name":"pc"},"mark":{"type":"rule","strokeWidth":2,"clip":true},
   "encoding":{"x":{"field":"t","type":"quantitative"},"y":{"field":"h","type":"quantitative"},"y2":{"field":"l"},
    "color":{"field":"ext","type":"nominal","scale":{"domain":["low","high"],"range":["#ff0000","#0000ff"]},"legend":null}}},
  {"data":{"name":"ma"},"mark":{"type":"line","color":"#303030","strokeWidth":1,"clip":true},
   "encoding":{"x":{"field":"t","type":"quantitative"},"y":{"field":"m","type":"quantitative"}}},
  {"data":{"name":"lab1"},"mark":{"type":"text","align":"left","baseline":"middle","fontSize":11,"color":"#000000"},
   "encoding":{"x":{"datum":2015.79},"y":{"field":"v","type":"quantitative"},"text":{"field":"v","type":"quantitative","format":".3f"}}},
  {"data":{"values":[{}]},"mark":{"type":"rect","color":"#000000"},"encoding":{"x":{"datum":2015.74},"x2":{"datum":2016.74},"y":{"datum":17.92},"y2":{"datum":13.96}}},
  {"data":{"values":[{}]},"mark":{"type":"text","align":"left","baseline":"middle","fontSize":10,"color":"#ffffff"},"encoding":{"x":{"datum":2015.79},"y":{"datum":17.25},"text":{"value":"17.329"}}},
  {"data":{"values":[{}]},"mark":{"type":"text","align":"left","baseline":"middle","fontSize":10,"color":"#ffffff"},"encoding":{"x":{"datum":2015.79},"y":{"datum":15.05},"text":{"value":"15.590"}}},
  {"data":{"values":[{}]},"mark":{"type":"text","align":"left","baseline":"middle","fontSize":7,"color":"#1e1e1e"},"encoding":{"x":{"datum":2004.569},"y":{"datum":51.7},"text":{"value":"@SI - Weekly  COMEX"}}},
  {"data":{"values":[{}]},"mark":{"type":"text","align":"left","baseline":"middle","fontSize":7,"color":"#e00000"},"encoding":{"x":{"datum":2005.915},"y":{"datum":51.7},"text":{"value":"L=15.590  -0.105  -0.67%"}}},
  {"data":{"values":[{}]},"mark":{"type":"text","align":"left","baseline":"middle","fontSize":7,"color":"#a0a0a0"},"encoding":{"x":{"datum":2007.352},"y":{"datum":51.7},"text":{"value":"B=15.585  A=15.590"}}},
  {"data":{"values":[{}]},"mark":{"type":"text","align":"left","baseline":"middle","fontSize":7,"color":"#e00000"},"encoding":{"x":{"datum":2008.59},"y":{"datum":51.7},"text":{"value":"O=15.770"}}},
  {"data":{"values":[{}]},"mark":{"type":"text","align":"left","baseline":"middle","fontSize":7,"color":"#a0a0a0"},"encoding":{"x":{"datum":2009.201},"y":{"datum":51.7},"text":{"value":"Hi=15.840  Lo=15.435"}}},
  {"data":{"values":[{}]},"mark":{"type":"text","align":"left","baseline":"middle","fontSize":7,"color":"#e00000"},"encoding":{"x":{"datum":2010.458},"y":{"datum":51.7},"text":{"value":"C=15.590"}}},
  {"data":{"values":[{}]},"mark":{"type":"text","align":"left","baseline":"middle","fontSize":7,"color":"#a0a0a0"},"encoding":{"x":{"datum":2011.05},"y":{"datum":51.7},"text":{"value":"V=49,661  COTExtreme (1,52)"}}},
  {"data":{"values":[{}]},"mark":{"type":"text","align":"left","baseline":"middle","fontSize":7,"color":"#2020c0"},"encoding":{"x":{"datum":2012.845},"y":{"datum":51.7},"text":{"value":"18.608  16.858"}}},
  {"data":{"values":[{}]},"mark":{"type":"text","align":"left","baseline":"middle","fontSize":7,"color":"#a0a0a0"},"encoding":{"x":{"datum":2013.689},"y":{"datum":51.7},"text":{"value":"Mov Avg 1 Line (Close,52,0)"}}},
  {"data":{"values":[{}]},"mark":{"type":"text","align":"left","baseline":"middle","fontSize":7,"color":"#1e1e1e"},"encoding":{"x":{"datum":2015.377},"y":{"datum":51.7},"text":{"value":"17. ..."}}}
 ]},
{"width":621,"height":106,
 "layer":[
  {"data":{"values":[{}]},"mark":{"type":"rule","color":"#666666","strokeDash":[2,2],"strokeWidth":1},
   "encoding":{"x":{"datum":2004.551,"type":"quantitative","scale":{"domain":[2004.551,2015.7],"nice":false,"zero":false},"axis":null},"x2":{"datum":2015.7},
    "y":{"datum":0,"type":"quantitative","scale":{"domain":[-86.7,91.4],"nice":false,"zero":false},"axis":{"orient":"right","values":[-80,-60,-40,-20,0,20,40,60,80],"labels":false,"title":null}}}},
  {"data":{"name":"large"},"mark":{"type":"line","color":"#c85050","strokeWidth":1,"clip":true},"encoding":{"x":{"field":"t","type":"quantitative"},"y":{"field":"v","type":"quantitative"}}},
  {"data":{"name":"small"},"mark":{"type":"line","color":"#505050","strokeWidth":1,"clip":true},"encoding":{"x":{"field":"t","type":"quantitative"},"y":{"field":"v","type":"quantitative"}}},
  {"data":{"name":"comm"},"mark":{"type":"line","color":"#4646b4","strokeWidth":1,"clip":true},"encoding":{"x":{"field":"t","type":"quantitative"},"y":{"field":"v","type":"quantitative"}}},
  {"data":{"name":"lab2"},"mark":{"type":"text","align":"left","baseline":"middle","fontSize":11,"color":"#000000"},
   "encoding":{"x":{"datum":2015.79},"y":{"field":"v","type":"quantitative"},"text":{"field":"lab","type":"nominal"}}},
  {"data":{"values":[{}]},"mark":{"type":"rect","color":"#ff0000"},"encoding":{"x":{"datum":2015.74},"x2":{"datum":2016.74},"y":{"datum":25.9},"y2":{"datum":4.0}}},
  {"data":{"values":[{}]},"mark":{"type":"rect","color":"#000000"},"encoding":{"x":{"datum":2015.74},"x2":{"datum":2016.74},"y":{"datum":4.0},"y2":{"datum":-14.5}}},
  {"data":{"values":[{}]},"mark":{"type":"rect","color":"#0000ff"},"encoding":{"x":{"datum":2015.74},"x2":{"datum":2016.74},"y":{"datum":-19.5},"y2":{"datum":-39.7}}},
  {"data":{"values":[{}]},"mark":{"type":"text","align":"left","baseline":"middle","fontSize":11,"color":"#ffffff"},"encoding":{"x":{"datum":2015.79},"y":{"datum":15.0},"text":{"value":"15,557"}}},
  {"data":{"values":[{}]},"mark":{"type":"text","align":"left","baseline":"middle","fontSize":11,"color":"#ffffff"},"encoding":{"x":{"datum":2015.79},"y":{"datum":-5.0},"text":{"value":"0"}}},
  {"data":{"values":[{}]},"mark":{"type":"text","align":"left","baseline":"middle","fontSize":11,"color":"#ffffff"},"encoding":{"x":{"datum":2015.79},"y":{"datum":-29.6},"text":{"value":"-29,477"}}},
  {"data":{"values":[{}]},"mark":{"type":"text","align":"left","baseline":"middle","fontSize":7,"color":"#a8a8a8"},"encoding":{"x":{"datum":2004.587},"y":{"datum":78},"text":{"value":"COT Net Position (1)"}}},
  {"data":{"values":[{}]},"mark":{"type":"text","align":"left","baseline":"middle","fontSize":7,"color":"#3c3cb4"},"encoding":{"x":{"datum":2005.844},"y":{"datum":78},"text":{"value":"-29477.00"}}},
  {"data":{"values":[{}]},"mark":{"type":"text","align":"left","baseline":"middle","fontSize":7,"color":"#c04040"},"encoding":{"x":{"datum":2006.454},"y":{"datum":78},"text":{"value":"15557.00"}}},
  {"data":{"values":[{}]},"mark":{"type":"text","align":"left","baseline":"middle","fontSize":7,"color":"#333333"},"encoding":{"x":{"datum":2007.011},"y":{"datum":78},"text":{"value":"13920.00"}}}
 ]},
{"width":621,"height":109,
 "layer":[
  {"data":{"name":"cd"},"mark":{"type":"line","color":"#000000","strokeWidth":1.4,"clip":true},
   "encoding":{"x":{"field":"t","type":"quantitative","scale":{"domain":[2004.551,2015.7],"nice":false,"zero":false},
     "axis":{"orient":"bottom","values":[2005,2006,2007,2008,2009,2010,2011,2012,2013,2014,2015],"labelExpr":"\"'\" + substring(toString(datum.value), 2, 4)","title":null,"tickSize":4,"domain":true,"labelFontSize":11,"labelPadding":2,"labelOverlap":false}},
    "y":{"field":"v","type":"quantitative","scale":{"domain":[0,179.4],"nice":false,"zero":false},"axis":{"orient":"right","values":[20,40,60,80,100,120,140,160],"labels":false,"title":null}}}},
  {"data":{"name":"cdx"},"mark":{"type":"line","strokeWidth":1.5,"clip":true},
   "encoding":{"x":{"field":"t","type":"quantitative"},"y":{"field":"v","type":"quantitative"},"detail":{"field":"seg","type":"nominal"},
    "color":{"field":"ext","type":"nominal","scale":{"domain":["low","high"],"range":["#ff0000","#0000ff"]},"legend":null}}},
  {"data":{"name":"lab3"},"mark":{"type":"text","align":"left","baseline":"middle","fontSize":10.5,"color":"#000000"},
   "encoding":{"x":{"datum":2015.77},"y":{"field":"v","type":"quantitative"},"text":{"field":"lab","type":"nominal"}}},
  {"data":{"values":[{}]},"mark":{"type":"rect","color":"#000000"},"encoding":{"x":{"datum":2015.74},"x2":{"datum":2016.74},"y":{"datum":56.0},"y2":{"datum":34.6}}},
  {"data":{"values":[{}]},"mark":{"type":"rect","color":"#000000"},"encoding":{"x":{"datum":2015.74},"x2":{"datum":2016.74},"y":{"datum":9.9},"y2":{"datum":-8.2}}},
  {"data":{"values":[{}]},"mark":{"type":"text","align":"left","baseline":"middle","fontSize":10.5,"color":"#ffffff"},"encoding":{"x":{"datum":2015.77},"y":{"datum":45.0},"text":{"value":"45,034.00"}}},
  {"data":{"values":[{}]},"mark":{"type":"text","align":"left","baseline":"middle","fontSize":10.5,"color":"#ffffff"},"encoding":{"x":{"datum":2015.77},"y":{"datum":0.5},"text":{"value":"0.00"}}},
  {"data":{"values":[{}]},"mark":{"type":"text","align":"left","baseline":"middle","fontSize":7,"color":"#a8a8a8"},"encoding":{"x":{"datum":2004.569},"y":{"datum":168},"text":{"value":"COTDiff (1,52)"}}},
  {"data":{"values":[{}]},"mark":{"type":"text","align":"left","baseline":"middle","fontSize":7,"color":"#333333"},"encoding":{"x":{"datum":2005.413},"y":{"datum":168},"text":{"value":"45034.00"}}},
  {"data":{"values":[{}]},"mark":{"type":"text","align":"left","baseline":"middle","fontSize":7,"color":"#333333"},"encoding":{"x":{"datum":2006.023},"y":{"datum":168},"text":{"value":"0.00"}}}
 ]}
]
}
